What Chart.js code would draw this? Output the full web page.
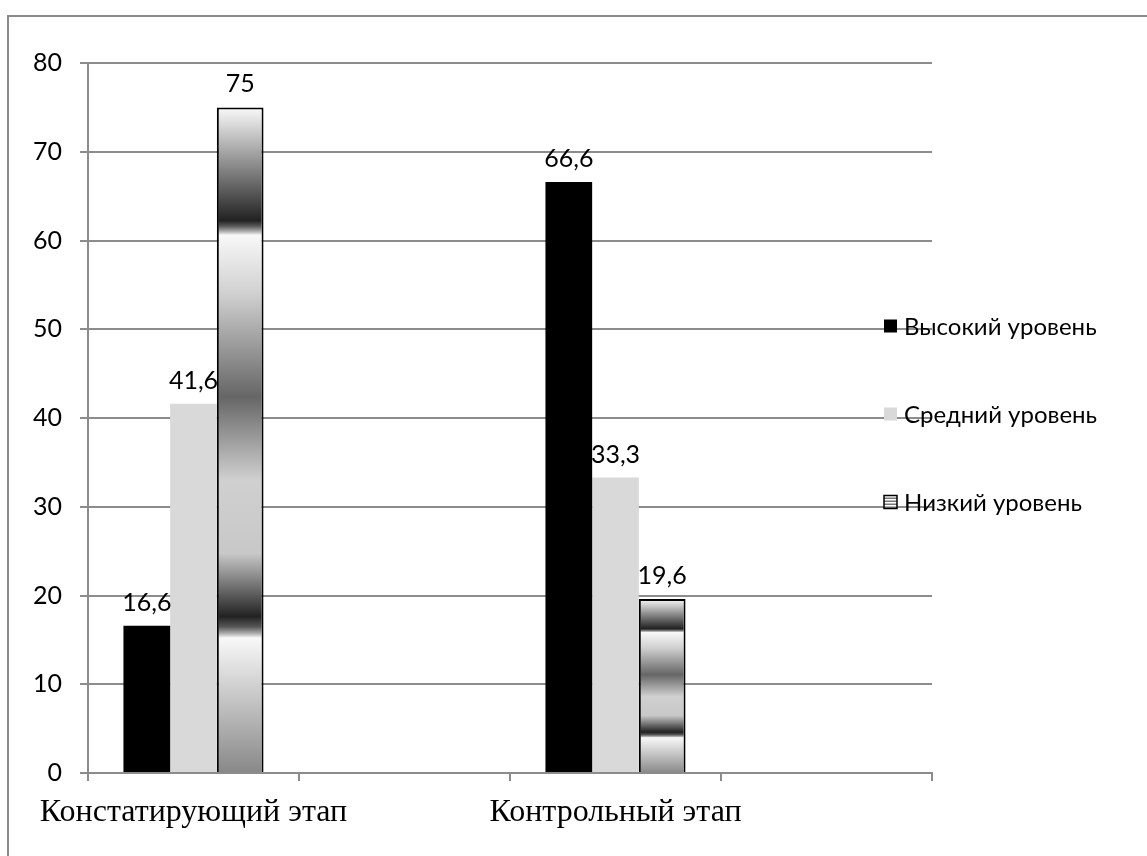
<!DOCTYPE html>
<html>
<head>
<meta charset="utf-8">
<script src="https://cdn.jsdelivr.net/npm/chart.js@4/dist/chart.umd.min.js"></script>
<style>
  html, body { margin: 0; padding: 0; background: #ffffff; }
  #wrap { position: relative; width: 1147px; height: 856px; }
  canvas { display: block; }
</style>
</head>
<body>
<div id="wrap"><canvas id="chart" width="1147" height="856"></canvas></div>
<script>
// Stages of the experiment (empty slots keep the gaps between groups)
const categories = ['Констатирующий этап', '', 'Контрольный этап', ''];
// Level names
const seriesNames = ['Высокий уровень', 'Средний уровень', 'Низкий уровень'];
// Share of pupils per level, %
const highLevel = [16.6, null, 66.6, null];
const midLevel = [41.6, null, 33.3, null];
const lowLevel = [75, null, 19.6, null];
// Value axis
const yMin = 0;
const yMax = 80;
const yStep = 10;

const sansFont = 'Lato, "Open Sans", "DejaVu Sans", sans-serif';
const serifFont = '"Liberation Serif", "DejaVu Serif", serif';
const gridColor = '#8c8c8c';

// Banded grey texture for the low-level bars, stops relative to bar height
const bandStops = [
  [0.00, '#fafafa'], [0.17, '#222222'], [0.178, '#555555'], [0.186, '#aaaaaa'],
  [0.192, '#f8f8f8'], [0.28, '#d0d0d0'], [0.435, '#666666'], [0.56, '#d0d0d0'],
  [0.67, '#c8c8c8'], [0.765, '#222222'], [0.78, '#555555'], [0.79, '#aaaaaa'],
  [0.797, '#f8f8f8'], [1.00, '#888888']
];

function bandFill(context) {
  const chart = context.chart;
  const y = chart.scales && chart.scales.y;
  const v = context.raw;
  if (!y || !chart.chartArea || v == null) return '#bbbbbb';
  const top = y.getPixelForValue(v);
  const bottom = y.getPixelForValue(0);
  const g = chart.ctx.createLinearGradient(0, top, 0, bottom);
  bandStops.forEach(([p, c]) => g.addColorStop(p, c));
  return g;
}

function fmt(v) {
  return String(v).replace('.', ',');
}

// Value labels above each bar
const valueLabels = {
  id: 'valueLabels',
  afterDatasetsDraw(chart) {
    const ctx = chart.ctx;
    ctx.save();
    ctx.font = '25px ' + sansFont;
    ctx.fillStyle = '#000000';
    ctx.textAlign = 'center';
    ctx.textBaseline = 'middle';
    chart.data.datasets.forEach((ds, i) => {
      const meta = chart.getDatasetMeta(i);
      meta.data.forEach((bar, j) => {
        const v = ds.data[j];
        if (v == null) return;
        ctx.fillText(fmt(v), bar.x, bar.y - 23);
      });
    });
    ctx.restore();
  }
};

// Outer frame and the legend placed over the right part of the plot
const frameAndLegend = {
  id: 'frameAndLegend',
  beforeDraw(chart) {
    const ctx = chart.ctx;
    ctx.save();
    ctx.strokeStyle = '#8a8a8a';
    ctx.lineWidth = 2;
    ctx.beginPath();
    ctx.moveTo(8, chart.height + 2);
    ctx.lineTo(8, 16);
    ctx.lineTo(chart.width + 2, 16);
    ctx.stroke();
    ctx.restore();
  },
  afterDraw(chart) {
    const ctx = chart.ctx;
    const items = [
      { y: 326, fill: '#000000' },
      { y: 414, fill: '#d9d9d9' },
      { y: 502, fill: 'stripes' }
    ];
    ctx.save();
    ctx.font = '24px ' + sansFont;
    ctx.textBaseline = 'middle';
    ctx.textAlign = 'left';
    items.forEach((it, i) => {
      const x = 884, s = 13, top = it.y - s / 2;
      if (it.fill === 'stripes') {
        ctx.fillStyle = '#ffffff';
        ctx.fillRect(x, top, s, s);
        ctx.fillStyle = '#777777';
        for (let k = 2; k < s - 1; k += 3) ctx.fillRect(x, top + k, s, 1.5);
        ctx.strokeStyle = '#000000';
        ctx.lineWidth = 1.5;
        ctx.strokeRect(x, top, s, s);
      } else {
        ctx.fillStyle = it.fill;
        ctx.fillRect(x, top, s, s);
      }
      ctx.fillStyle = '#000000';
      ctx.fillText(seriesNames[i], 904, it.y + 1);
    });
    ctx.restore();
  }
};

new Chart(document.getElementById('chart'), {
  type: 'bar',
  data: {
    labels: categories,
    datasets: [
      { label: seriesNames[0], data: highLevel, backgroundColor: '#000000', borderWidth: 0 },
      { label: seriesNames[1], data: midLevel, backgroundColor: '#d9d9d9', borderWidth: 0 },
      { label: seriesNames[2], data: lowLevel, backgroundColor: bandFill, borderColor: '#000000', borderWidth: 2 }
    ]
  },
  options: {
    responsive: false,
    devicePixelRatio: 1,
    animation: false,
    layout: { padding: { left: 0, top: 63, right: 215, bottom: 0 } },
    datasets: { bar: { categoryPercentage: 0.664, barPercentage: 1, skipNull: false } },
    plugins: {
      legend: { display: false },
      tooltip: { enabled: false }
    },
    scales: {
      x: {
        offset: true,
        grid: { offset: true, drawOnChartArea: false, drawTicks: true, tickLength: 8, color: gridColor, lineWidth: 2 },
        border: { display: true, color: gridColor, width: 2 },
        ticks: {
          autoSkip: false, maxRotation: 0, minRotation: 0, padding: 12,
          color: '#000000', font: { family: serifFont, size: 32 }
        },
        afterFit(scale) { scale.height = 83; }
      },
      y: {
        min: yMin, max: yMax,
        grid: { color: gridColor, lineWidth: 2, tickLength: 8 },
        border: { display: true, color: gridColor, width: 2 },
        ticks: { stepSize: yStep, padding: 18, color: '#000000', font: { family: sansFont, size: 25 } },
        afterFit(scale) { scale.width = 88; }
      }
    }
  },
  plugins: [valueLabels, frameAndLegend]
});
</script>
</body>
</html>
